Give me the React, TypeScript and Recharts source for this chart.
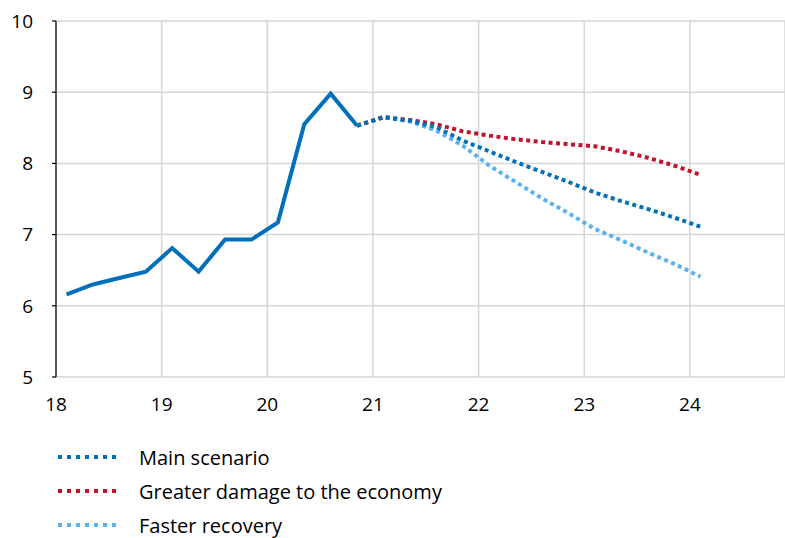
import { CartesianGrid, Legend, Line, LineChart, XAxis, YAxis } from "recharts";

// quarter positions on the year axis (18 = 2018)
const quarters = [
  18.1, 18.35, 18.6, 18.85, 19.1, 19.35, 19.6, 19.85, 20.1, 20.35, 20.6, 20.85,
  21.1, 21.35, 21.6, 21.85, 22.1, 22.35, 22.6, 22.85, 23.1, 23.35, 23.6, 23.85,
  24.1,
];

// actual data, 18.1 .. 20.85
const actual = [6.16, 6.3, 6.39, 6.48, 6.81, 6.48, 6.93, 6.93, 7.17, 8.55, 8.98, 8.53];

// forecasts, 20.85 .. 24.1
const mainScenario = [8.53, 8.65, 8.6, 8.51, 8.32, 8.17, 8.02, 7.88, 7.74, 7.59, 7.47, 7.36, 7.24, 7.11];
const greaterDamage = [8.53, 8.65, 8.61, 8.55, 8.45, 8.39, 8.34, 8.3, 8.27, 8.24, 8.17, 8.08, 7.97, 7.84];
const fasterRecovery = [8.53, 8.65, 8.59, 8.46, 8.25, 7.97, 7.74, 7.51, 7.3, 7.08, 6.92, 6.75, 6.59, 6.41];

const forecastStart = actual.length - 1;

const xTicks = [18, 19, 20, 21, 22, 23, 24];
const yTicks = [5, 6, 7, 8, 9, 10];

const series = [
  { key: "main", name: "Main scenario", color: "#0070BA" },
  { key: "damage", name: "Greater damage to the economy", color: "#C0142E" },
  { key: "faster", name: "Faster recovery", color: "#5AB3F0" },
];

const data = quarters.map((x, i) => {
  const j = i - forecastStart;
  return {
    x,
    actual: i < actual.length ? actual[i] : null,
    main: j >= 0 ? mainScenario[j] : null,
    damage: j >= 0 ? greaterDamage[j] : null,
    faster: j >= 0 ? fasterRecovery[j] : null,
  };
});

const font = "'Open Sans', sans-serif";

function ScenarioLegend() {
  return (
    <div style={{ paddingTop: 20, fontFamily: font, fontSize: 20, color: "#000" }}>
      {series.map((s) => (
        <div key={s.key} style={{ height: 34, display: "flex", alignItems: "center" }}>
          <svg width={60} height={6} style={{ marginLeft: 58, marginRight: 21 }}>
            <line x1={0} y1={3} x2={60} y2={3} stroke={s.color} strokeWidth={4} strokeDasharray="4 5" />
          </svg>
          <span>{s.name}</span>
        </div>
      ))}
    </div>
  );
}

export default function App() {
  return (
    <div style={{ position: "absolute", left: 0, top: 0, background: "#fff" }}>
      <LineChart
        width={785}
        height={538}
        data={data}
        margin={{ top: 21, right: 0, bottom: 0, left: 0 }}
      >
        <CartesianGrid stroke="#d6d6d6" strokeWidth={1.5} />
        <XAxis
          dataKey="x"
          type="number"
          domain={[18, 24.9]}
          ticks={xTicks}
          axisLine={false}
          tickLine={false}
          tickSize={0}
          tickMargin={21}
          height={43}
          tick={{ fill: "#000", fontSize: 19, fontFamily: font }}
        />
        <YAxis
          type="number"
          domain={[5, 10]}
          ticks={yTicks}
          width={56}
          axisLine={{ stroke: "#000", strokeWidth: 1.2 }}
          tickLine={{ stroke: "#000", strokeWidth: 1.2 }}
          tickSize={4}
          tickMargin={19}
          tick={{ fill: "#000", fontSize: 19, fontFamily: font }}
        />
        <Legend
          verticalAlign="bottom"
          content={() => <ScenarioLegend />}
          wrapperStyle={{ left: 0, width: 785, height: 118 }}
        />
        {[...series].reverse().map((s) => (
          <Line
            key={s.key}
            dataKey={s.key}
            name={s.name}
            type="linear"
            stroke={s.color}
            strokeWidth={4}
            strokeDasharray="4 3.5"
            dot={false}
            isAnimationActive={false}
            legendType="none"
          />
        ))}
        <Line
          dataKey="actual"
          type="linear"
          stroke="#0070BA"
          strokeWidth={4}
          dot={false}
          isAnimationActive={false}
          legendType="none"
        />
      </LineChart>
    </div>
  );
}
